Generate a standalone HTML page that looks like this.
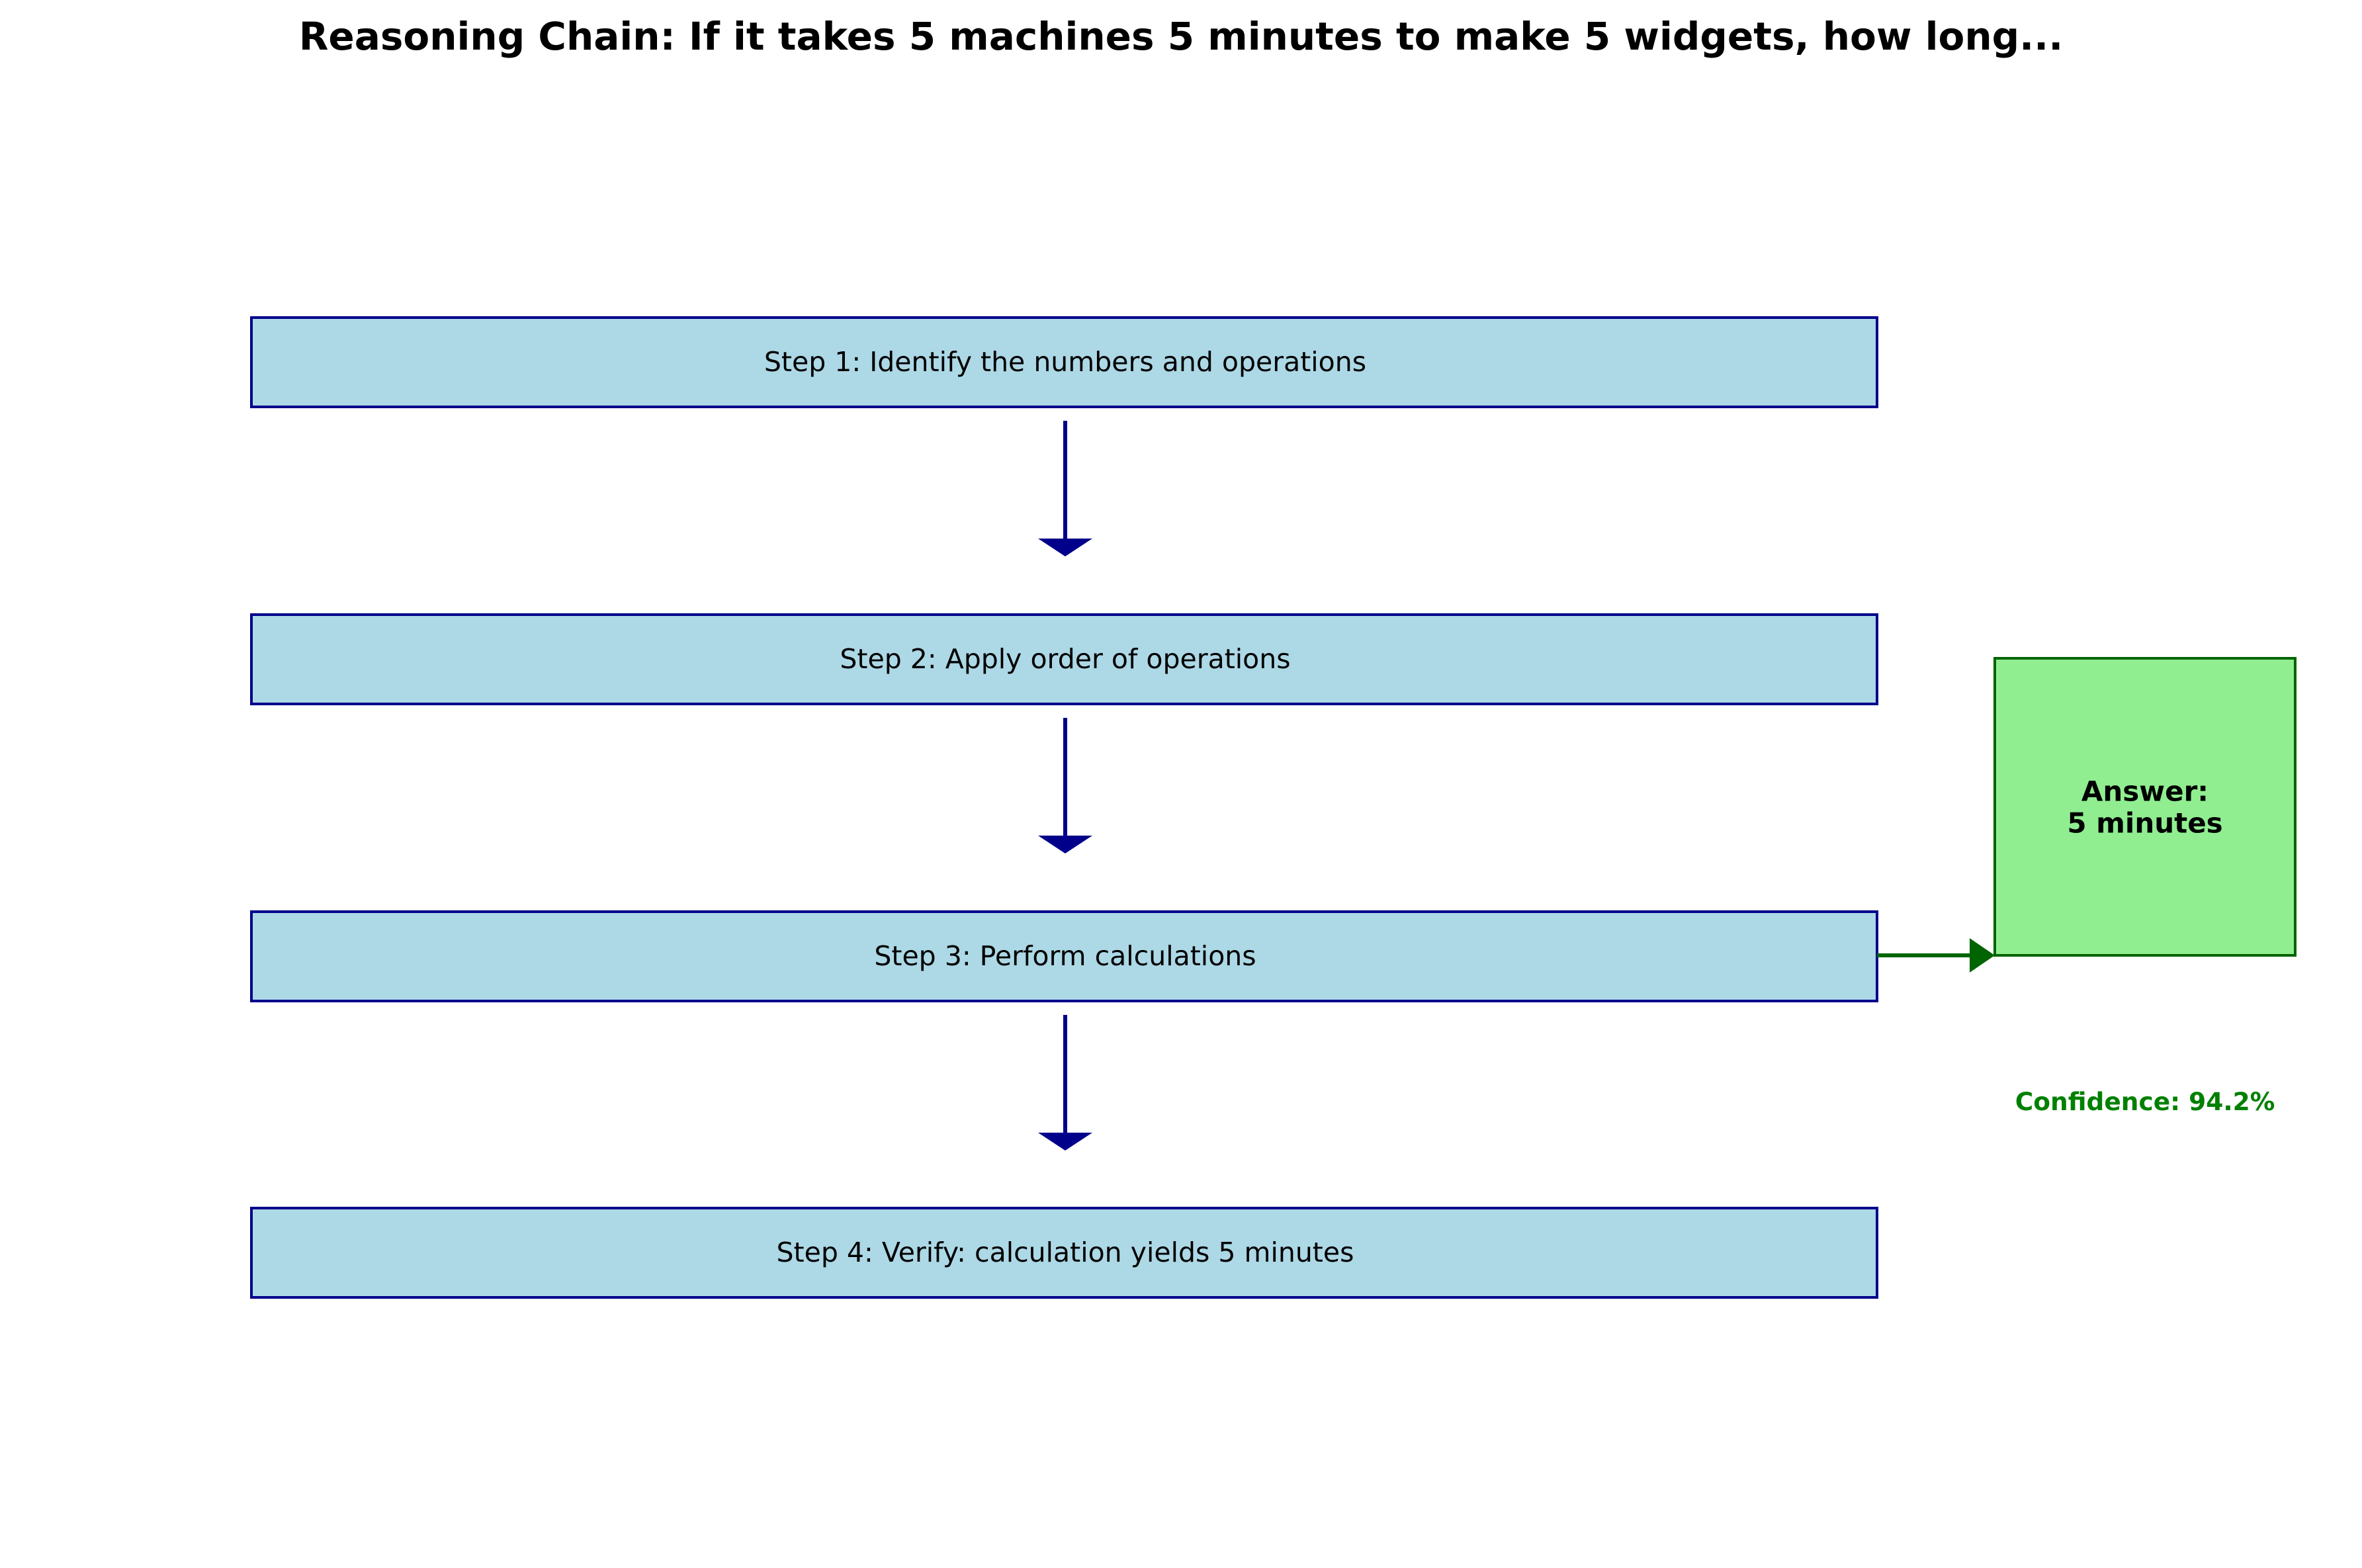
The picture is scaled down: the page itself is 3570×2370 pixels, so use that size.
<!DOCTYPE html>
<html><head><meta charset="utf-8"><style>
html,body{margin:0;padding:0;background:#fff;}
svg{display:block;}
text{font-family:"DejaVu Sans","Liberation Sans",sans-serif;}
</style></head><body>
<svg width="3570" height="2370" viewBox="0 0 3570 2370" xmlns="http://www.w3.org/2000/svg">
<rect width="3570" height="2370" fill="#fff"/>
<text x="1785" y="55" font-size="58" font-weight="bold" text-anchor="middle" dominant-baseline="central" fill="#000">Reasoning Chain: If it takes 5 machines 5 minutes to make 5 widgets, how long...</text>
<g fill="#add8e6" stroke="#00008b" stroke-width="4">
<rect x="380" y="480" width="2457" height="135"/>
<rect x="380" y="929" width="2457" height="135"/>
<rect x="380" y="1378" width="2457" height="135"/>
<rect x="380" y="1826" width="2457" height="135"/>
</g>
<g font-size="41" text-anchor="middle" dominant-baseline="central" fill="#000">
<text x="1610" y="547">Step 1: Identify the numbers and operations</text>
<text x="1610" y="996">Step 2: Apply order of operations</text>
<text x="1610" y="1445">Step 3: Perform calculations</text>
<text x="1610" y="1893">Step 4: Verify: calculation yields 5 minutes</text>
</g>
<g stroke="#00008b" stroke-width="6" fill="none">
<line x1="1610" y1="636" x2="1610" y2="816"/>
<line x1="1610" y1="1085" x2="1610" y2="1265"/>
<line x1="1610" y1="1534" x2="1610" y2="1714"/>
</g>
<g fill="#00008b">
<polygon points="1569,814 1651,814 1610,841"/>
<polygon points="1569,1263 1651,1263 1610,1290"/>
<polygon points="1569,1712 1651,1712 1610,1739"/>
</g>
<rect x="3015" y="995" width="454" height="449" fill="#90ee90" stroke="#006400" stroke-width="4"/>
<text x="3242" y="1196" font-size="42" font-weight="bold" text-anchor="middle" dominant-baseline="central" fill="#000">Answer:</text>
<text x="3242" y="1244" font-size="42" font-weight="bold" text-anchor="middle" dominant-baseline="central" fill="#000">5 minutes</text>
<line x1="2837" y1="1444" x2="2980" y2="1444" stroke="#006400" stroke-width="6"/>
<polygon points="2977,1418 2977,1470 3015,1444" fill="#006400"/>
<text x="3242" y="1665" font-size="37.5" font-weight="bold" text-anchor="middle" dominant-baseline="central" fill="#008000">Confidence: 94.2%</text>
</svg>
</body></html>
